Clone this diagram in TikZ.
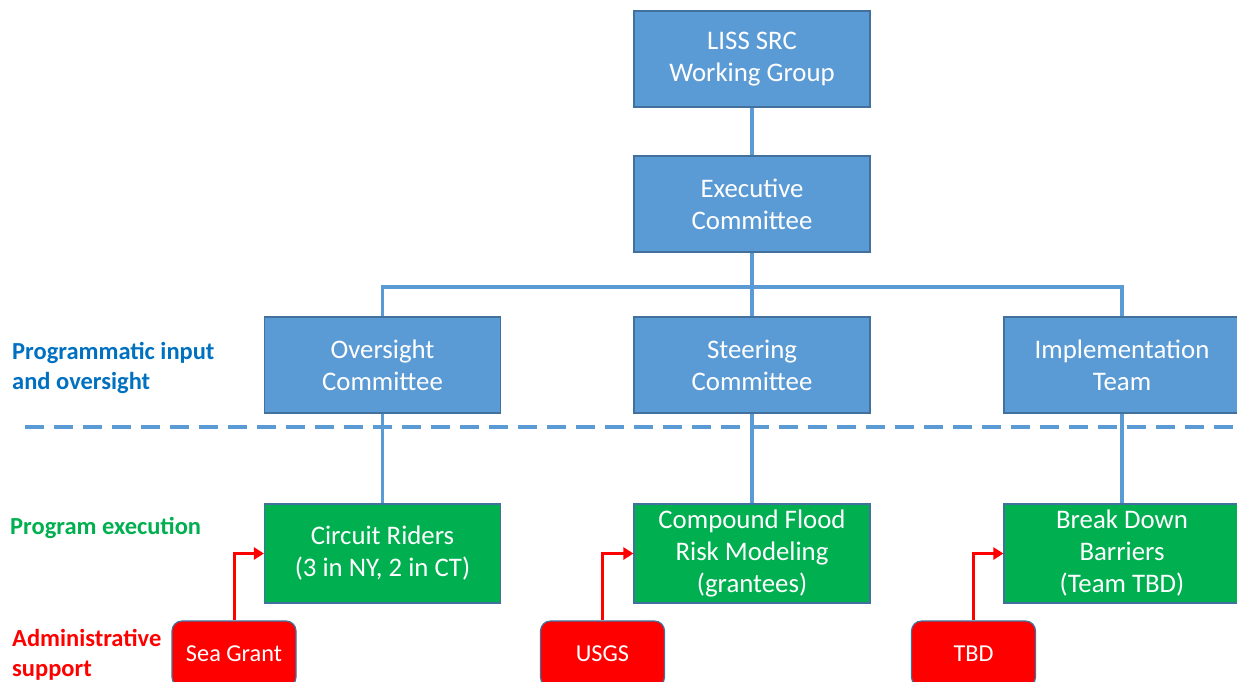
\documentclass[tikz,border=0pt]{standalone}
\usepackage{fontspec}
\setmainfont{Carlito}
\usetikzlibrary{arrows.meta}
\definecolor{boxblue}{HTML}{5B9BD5}
\definecolor{edgeblue}{HTML}{41719C}
\definecolor{boxgreen}{HTML}{00B050}
\definecolor{boxred}{HTML}{FF0000}
\definecolor{lblblue}{HTML}{0070C0}
\begin{document}
\begin{tikzpicture}[x=1pt,y=-1pt,
  bluebox/.style={draw=edgeblue,fill=boxblue,line width=1.2pt,text=white,minimum width=236pt,minimum height=96pt,align=center,inner sep=0pt,font=\fontsize{26.8}{32}\selectfont},
  greenbox/.style={bluebox,fill=boxgreen,minimum height=99pt},
  redbox/.style={draw=edgeblue,fill=boxred,line width=1.2pt,text=white,rounded corners=10pt,minimum width=124pt,minimum height=66pt,inner sep=0pt,font=\fontsize{24.3}{28}\selectfont},
  conn/.style={boxblue,line width=3.5pt},
  redarrow/.style={boxred,line width=3pt,-{Triangle[length=10pt,width=12pt]}},
  lbl/.style={anchor=west,align=left,inner sep=0pt,font=\bfseries\fontsize{24.5}{30}\selectfont}]
\clip (0,0) rectangle (1237,681);
\fill[white] (0,0) rectangle (1237,681);
% top nodes
\node[bluebox] (liss) at (752,59) {LISS SRC\\Working Group};
\node[bluebox] (exec) at (752,204) {Executive\\Committee};
\node[bluebox] (over) at (382.5,365) {Oversight\\Committee};
\node[bluebox] (steer) at (752,365) {Steering\\Committee};
\node[bluebox] (impl) at (1122,365) {Implementation\\Team};
% green nodes
\node[greenbox] (circ) at (382.5,553.5) {Circuit Riders\\(3 in NY, 2 in CT)};
\node[greenbox] (comp) at (752,553.5) {Compound Flood\\Risk Modeling\\(grantees)};
\node[greenbox] (brk) at (1122,553.5) {Break Down\\Barriers\\(Team TBD)};
% red nodes
\node[redbox] (sea) at (234,654) {Sea Grant};
\node[redbox] (usgs) at (602.5,654) {USGS};
\node[redbox] (tbd) at (973.5,654) {TBD};
% connectors
\coordinate (bar) at (752,287);
\draw[conn] (liss.south) -- (exec.north);
\draw[conn] (exec.south) -- (bar);
\draw[conn] (over.north) |- (bar) -| (impl.north);
\draw[conn] (steer.north) -- (bar);
\draw[conn] (over.south) -- (circ.north);
\draw[conn] (steer.south) -- (comp.north);
\draw[conn] (impl.south) -- (brk.north);
% dashed divider
\coordinate (dl) at (25,427);
\coordinate (dr) at (1237,427);
\draw[boxblue,line width=4pt,dash pattern=on 19pt off 10pt] (dl) -- (dr);
% red arrows
\draw[redarrow] (sea.north) |- (circ.west);
\draw[redarrow] (usgs.north) |- (comp.west);
\draw[redarrow] (tbd.north) |- (brk.west);
% labels
\node[lbl,text=lblblue] (l1) at (12,368) {Programmatic input\\and oversight};
\node[lbl,text=boxgreen] (l2) at (10,528) {Program execution};
\node[lbl,text=boxred] (l3) at (12,655) {Administrative\\support};
\end{tikzpicture}
\end{document}
